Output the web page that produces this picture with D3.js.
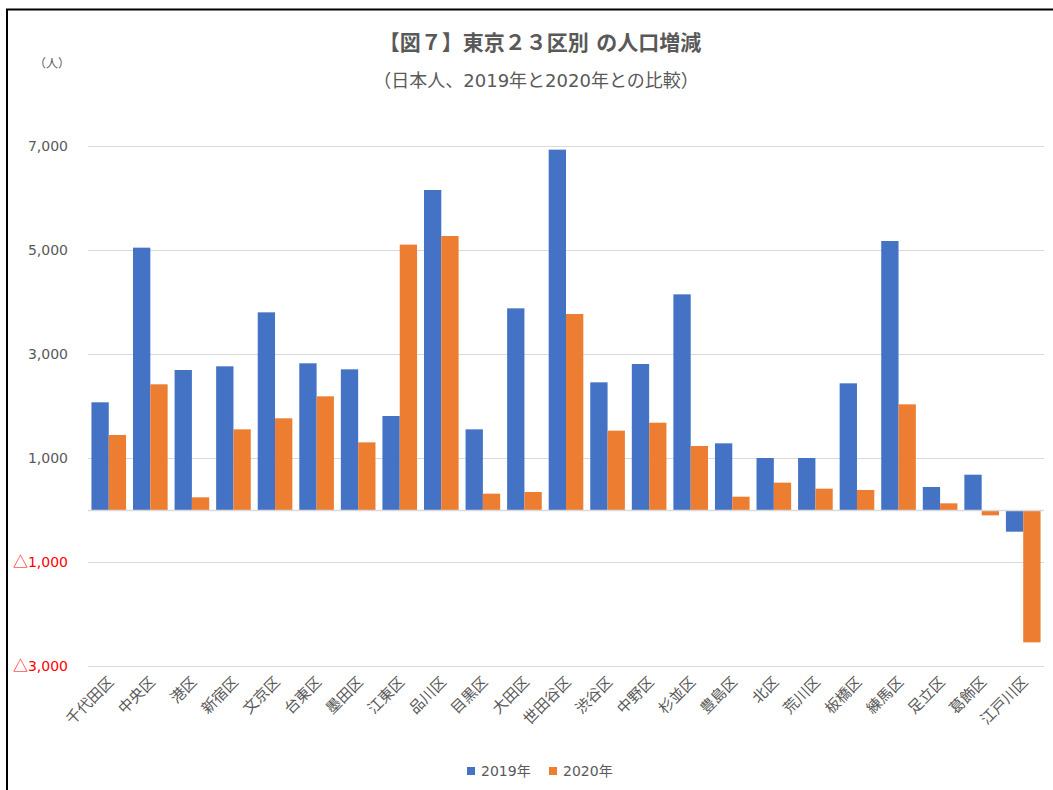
<!DOCTYPE html>
<html>
<head>
<meta charset="utf-8">
<script src="https://cdn.jsdelivr.net/npm/d3@7"></script>
<style>
  body { margin: 0; background: #fff; }
  text { font-family: "DejaVu Sans", "Noto Sans CJK JP", sans-serif; }
</style>
</head>
<body>
<div id="app"></div>
<script>
const WIDTH = 1053
const HEIGHT = 790

const wards = ['千代田区','中央区','港区','新宿区','文京区','台東区','墨田区','江東区','品川区','目黒区','大田区','世田谷区',
  '渋谷区','中野区','杉並区','豊島区','北区','荒川区','板橋区','練馬区','足立区','葛飾区','江戸川区']
const series = ['2019年', '2020年']
const v2019 = [2071, 5045, 2692, 2763, 3801, 2821, 2705, 1808, 6154, 1551, 3878, 6930,
  2455, 2808, 4147, 1282, 1000, 1000, 2436, 5173, 442, 679, -417]
const v2020 = [1442, 2417, 244, 1551, 1763, 2186, 1301, 5103, 5269, 314, 346, 3769,
  1526, 1679, 1231, 256, 526, 410, 385, 2032, 128, -103, -2545]
const yTicks = [7000, 5000, 3000, 1000, -1000, -3000]
const colors = ['#4472c4', '#ed7d31']

const data = wards.map((w, i) => ({ ward: w, values: [v2019[i], v2020[i]] }))

const svg = d3.select('#app').append('svg')
  .attr('width', WIDTH)
  .attr('height', HEIGHT)

// chart frame (only top/left visible in the picture)
svg.append('path')
  .attr('d', `M7,${HEIGHT + 2} V9.5 H${WIDTH + 2}`)
  .attr('fill', 'none')
  .attr('stroke', '#000')
  .attr('stroke-width', 2)

const x = d3.scaleBand().domain(wards).range([88, 1044]).paddingInner(0.167).paddingOuter(0.083)
const xs = d3.scaleBand().domain(series).range([0, x.bandwidth()])
const y = d3.scaleLinear().domain([-3000, 7000]).range([666, 146])

// gridlines
svg.append('g')
  .selectAll('line')
  .data(yTicks)
  .join('line')
  .attr('x1', 88).attr('x2', 1044)
  .attr('y1', d => Math.round(y(d)) + .5).attr('y2', d => Math.round(y(d)) + .5)
  .attr('stroke', '#d9d9d9')
  .attr('stroke-width', 1)

// y labels
const yl = svg.append('g')
  .selectAll('text')
  .data(yTicks)
  .join('text')
  .attr('x', 68)
  .attr('y', d => y(d) + 5)
  .attr('text-anchor', 'end')
  .attr('font-size', 14)
  .attr('fill', d => d < 0 ? '#ff0000' : '#595959')

yl.filter(d => d < 0).append('tspan')
  .style('font-family', '"Noto Sans CJK JP"')
  .attr('font-size', 15)
  .text('△')
yl.append('tspan').text(d => d3.format(',')(Math.abs(d)))

// bars
const groups = svg.append('g')
  .selectAll('g')
  .data(data)
  .join('g')
  .attr('transform', d => `translate(${x(d.ward)},0)`)

groups.selectAll('rect')
  .data(d => d.values.map((v, i) => ({ v, s: series[i], i })))
  .join('rect')
  .attr('x', d => xs(d.s))
  .attr('width', xs.bandwidth())
  .attr('y', d => y(Math.max(0, d.v)))
  .attr('height', d => Math.abs(y(d.v) - y(0)))
  .attr('fill', d => colors[d.i])

// zero axis line
svg.append('line')
  .attr('x1', 88).attr('x2', 1044)
  .attr('y1', Math.round(y(0)) + .5).attr('y2', Math.round(y(0)) + .5)
  .attr('stroke', '#d9d9d9')
  .attr('stroke-width', 1.5)

// x labels
svg.append('g')
  .selectAll('text')
  .data(wards)
  .join('text')
  .attr('transform', d => `translate(${x(d) + x.bandwidth() / 2 + 6},${683}) rotate(-45)`)
  .attr('text-anchor', 'end')
  .attr('font-size', 15)
  .attr('fill', '#595959')
  .text(d => d)

// titles
svg.append('text')
  .attr('x', 540).attr('y', 50)
  .attr('text-anchor', 'middle')
  .attr('font-size', 21)
  .attr('font-weight', 'bold')
  .attr('fill', '#595959')
  .text('【図７】東京２３区別 の人口増減')

svg.append('text')
  .attr('x', 536).attr('y', 87)
  .attr('text-anchor', 'middle')
  .attr('font-size', 18)
  .attr('fill', '#595959')
  .text('（日本人、2019年と2020年との比較）')

svg.append('text')
  .attr('x', 52).attr('y', 68)
  .attr('text-anchor', 'middle')
  .attr('font-size', 12)
  .attr('fill', '#595959')
  .text('（人）')

// legend
const legend = svg.append('g')
  .selectAll('g')
  .data(series)
  .join('g')
  .attr('transform', (d, i) => `translate(${467 + i * 82},767)`)

legend.append('rect')
  .attr('width', 8).attr('height', 8)
  .attr('fill', (d, i) => colors[i])

legend.append('text')
  .attr('x', 14).attr('y', 8.5)
  .attr('font-size', 14)
  .attr('fill', '#595959')
  .text(d => d)
</script>
</body>
</html>
